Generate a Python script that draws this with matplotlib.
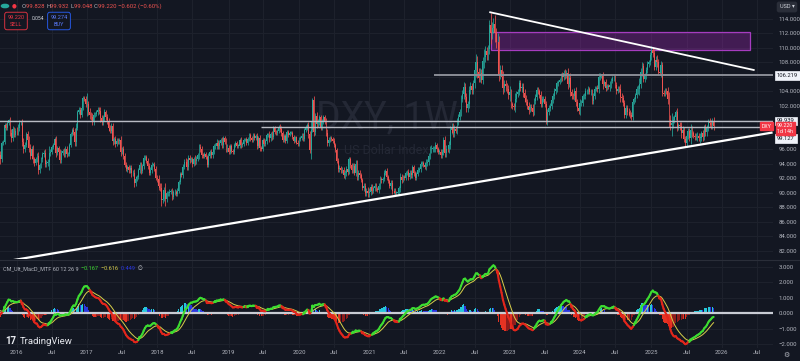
import numpy as np
import pandas as pd
import matplotlib
matplotlib.use("Agg")
import matplotlib.pyplot as plt
import matplotlib.dates as mdates
from matplotlib.collections import LineCollection
from matplotlib.patches import Rectangle

plt.rcParams['font.family'] = ['Roboto', 'DejaVu Sans']

# ------------------------------------------------------------------ data
# weekly closes of DXY (weeks starting Monday), read/estimated from the chart
warmup_closes = [91.5, 92.4, 94.7, 94.8, 94.5, 94.4, 94.1, 95.3, 97.7, 99.8,
                 98.0, 97.4, 98.0, 99.3, 97.5, 96.9, 95.0, 95.3, 94.9, 96.1,
                 96.9, 96.6, 96.4, 94.1, 94.0, 95.4, 96.0, 96.1, 97.9, 97.2,
                 97.3, 97.6, 96.6, 94.8, 95.8, 96.2, 95.2, 95.0, 96.1, 96.1]

closes_2015 = [95.2, 94.6, 96.9, 97.0, 99.3, 99.0, 99.6, 100.0, 98.3, 97.5,
               98.8, 98.0, 98.6]
closes_2016 = [98.5, 99.0, 99.6, 99.6, 97.0, 96.0, 96.6, 98.1, 97.3, 96.2,
               95.1, 96.1, 94.6, 94.1, 94.7, 95.1, 93.1, 93.8, 94.6, 95.3,
               95.5, 94.0, 94.1, 94.2, 95.5, 95.6, 96.3, 96.6, 97.4, 95.5,
               96.2, 95.7, 94.5, 95.5, 95.8, 95.3, 96.1, 95.4, 95.4, 96.6,
               98.1, 98.7, 98.4, 97.0, 99.0, 101.2, 101.5, 100.7, 101.7, 103.1,
               103.0, 102.2]
closes_2017 = [102.2, 101.2, 100.7, 100.5, 99.8, 100.8, 100.9, 101.1, 101.5, 101.3,
               100.3, 99.8, 100.4, 101.1, 100.5, 99.9, 99.0, 98.6, 99.2, 97.1,
               97.4, 96.7, 97.2, 97.1, 97.3, 95.6, 96.0, 95.1, 93.9, 93.3,
               93.5, 93.1, 93.4, 92.7, 92.8, 91.3, 91.9, 92.2, 93.1, 93.8,
               93.0, 93.7, 94.8, 94.9, 94.4, 93.7, 92.8, 93.1, 93.9, 93.9,
               93.3, 92.1]
closes_2018 = [91.9, 90.9, 90.6, 89.0, 89.2, 90.4, 89.1, 89.9, 89.9, 90.1,
               90.2, 89.4, 90.1, 90.1, 89.8, 90.3, 91.5, 92.6, 92.5, 93.6,
               94.3, 94.2, 93.6, 94.8, 94.5, 94.6, 94.0, 94.7, 94.4, 94.7,
               95.2, 96.3, 96.1, 95.2, 95.1, 95.4, 94.9, 93.9, 95.1, 95.6,
               95.2, 95.7, 96.4, 96.5, 96.9, 96.5, 96.9, 97.3, 96.6, 97.5,
               97.0, 96.2, 96.2]
closes_2019 = [95.7, 96.4, 95.8, 95.6, 96.6, 96.9, 96.5, 96.5, 97.3, 96.6,
               96.7, 97.3, 97.4, 96.9, 97.4, 98.0, 97.5, 97.3, 98.0, 97.6,
               97.8, 96.5, 97.6, 96.2, 96.1, 97.3, 96.8, 97.1, 98.0, 98.0,
               97.5, 98.1, 97.7, 98.9, 98.4, 98.3, 98.5, 99.1, 98.8, 98.3,
               97.3, 97.8, 97.2, 98.4, 98.0, 98.3, 98.3, 97.7, 97.2, 97.7,
               96.9, 96.8]
closes_2020 = [97.4, 97.6, 97.9, 97.4, 98.7, 99.1, 99.3, 98.1, 95.9, 98.7,
               102.8, 98.4, 100.6, 99.5, 99.8, 100.4, 99.1, 99.8, 100.4, 99.9,
               98.3, 96.9, 97.3, 97.6, 97.4, 97.2, 96.6, 95.9, 94.4, 93.3,
               93.4, 93.1, 93.2, 92.4, 92.7, 93.3, 92.9, 94.6, 93.8, 93.1,
               93.7, 92.8, 94.0, 92.2, 92.8, 92.4, 91.8, 90.7, 90.9, 90.0,
               90.3, 89.9]
closes_2021 = [90.1, 90.8, 90.2, 90.6, 91.0, 90.5, 90.4, 90.9, 91.9, 91.7,
               91.9, 92.8, 93.0, 92.2, 91.6, 90.9, 91.3, 90.2, 90.3, 90.0,
               90.0, 90.1, 90.6, 92.2, 91.8, 92.2, 92.1, 92.7, 92.9, 92.2,
               92.8, 92.5, 93.5, 92.7, 92.1, 92.6, 93.2, 93.3, 94.0, 94.1,
               93.9, 93.6, 94.1, 94.3, 95.1, 96.0, 96.1, 96.1, 96.1, 96.6,
               96.0, 95.7]
closes_2022 = [95.7, 95.2, 95.6, 97.3, 95.5, 96.1, 96.0, 96.6, 98.7, 99.1,
               98.2, 98.8, 98.6, 99.8, 100.5, 101.1, 103.0, 103.7, 104.6, 103.2,
               101.7, 102.2, 104.2, 104.7, 104.2, 105.1, 107.0, 108.1, 106.7, 105.9,
               106.6, 105.6, 108.2, 108.8, 109.6, 109.0, 109.8, 113.2, 112.1, 112.8,
               113.3, 112.0, 110.8, 110.8, 106.3, 107.0, 106.0, 104.5, 105.0, 104.7,
               104.3, 103.5]
closes_2023 = [103.9, 102.2, 102.0, 101.9, 103.0, 103.6, 103.9, 105.2, 104.5, 104.6,
               103.8, 103.1, 102.5, 102.0, 101.5, 101.8, 101.7, 101.2, 102.7, 103.2,
               104.2, 104.0, 103.5, 102.3, 102.9, 102.9, 102.3, 99.9, 101.1, 101.7,
               102.0, 102.8, 103.4, 104.1, 104.3, 105.1, 105.3, 105.6, 106.2, 106.0,
               106.6, 106.2, 106.6, 105.0, 105.9, 103.9, 103.4, 103.3, 104.0, 102.6,
               101.7, 101.3]
closes_2024 = [102.4, 102.4, 103.3, 103.4, 104.0, 104.1, 104.3, 103.9, 103.9, 102.7,
               103.4, 104.4, 104.5, 104.3, 106.0, 106.1, 106.1, 105.0, 105.3, 104.5,
               104.7, 104.6, 104.9, 105.5, 105.8, 105.9, 104.9, 104.1, 104.4, 104.3,
               103.2, 103.1, 102.4, 100.7, 101.7, 101.2, 101.1, 100.7, 100.4, 102.5,
               102.9, 103.5, 104.3, 104.3, 105.0, 106.7, 107.5, 105.7, 106.1, 107.0,
               107.8, 108.0, 109.0]
closes_2025 = [109.7, 109.3, 107.4, 108.4, 108.0, 106.7, 106.6, 107.6, 103.8, 103.7,
               104.1, 104.0, 102.9, 100.1, 99.3, 99.6, 100.0, 100.4, 101.1, 99.1,
               99.3, 99.2, 98.2, 98.7, 97.4, 96.9, 97.9, 98.5, 97.6, 98.7,
               98.2, 97.9, 97.7, 97.8, 97.8, 97.6, 97.6, 98.2, 97.7, 99.0,
               98.4, 98.9, 99.8, 99.6, 99.3, 99.82, 99.22]

# wick length beyond the body, in tenths of a point
wick_2015 = [4, 6, 3, 3, 3, 3, 3, 2, 5, 5, 4, 3, 3]
wick_2016 = [5, 5, 4, 3, 6, 5, 4, 3, 4, 6, 5, 4, 5, 4, 3, 4, 5, 3, 4, 3,
             4, 5, 4, 4, 10, 4, 3, 3, 3, 5, 3, 3, 4, 4, 3, 4, 3, 4, 3, 3,
             3, 3, 4, 5, 6, 3, 3, 4, 3, 2, 3, 4]
wick_2017 = [16, 5, 5, 4, 5, 4, 3, 3, 4, 4, 5, 4, 4, 5, 4, 4, 4, 3, 4, 5,
             3, 4, 3, 3, 3, 5, 3, 4, 4, 3, 4, 4, 4, 5, 4, 5, 4, 3, 3, 4,
             4, 3, 4, 3, 3, 4, 4, 4, 3, 2, 3, 4]
wick_2018 = [4, 5, 4, 8, 4, 4, 9, 4, 4, 4, 3, 4, 3, 4, 3, 3, 3, 3, 3, 4,
             3, 5, 4, 4, 4, 3, 4, 3, 5, 4, 3, 5, 5, 4, 3, 3, 3, 3, 4, 3,
             4, 4, 4, 4, 5, 4, 4, 3, 4, 4, 3, 5, 5]
wick_2019 = [4, 3, 3, 3, 3, 3, 3, 3, 3, 4, 3, 3, 2, 3, 3, 3, 3, 3, 3, 3,
             3, 4, 3, 4, 3, 3, 3, 3, 3, 3, 5, 3, 4, 3, 3, 3, 3, 3, 4, 4,
             3, 3, 3, 3, 3, 2, 2, 3, 3, 2, 2, 4]
wick_2020 = [3, 3, 3, 3, 3, 3, 4, 5, 4, 12, 3, 6, 4, 5, 4, 4, 4, 4, 3, 4,
             4, 5, 4, 3, 3, 3, 3, 3, 3, 4, 4, 3, 4, 4, 5, 4, 4, 3, 4, 3,
             4, 4, 5, 5, 4, 4, 3, 3, 4, 4, 4, 5]
wick_2021 = [5, 4, 4, 3, 4, 3, 3, 4, 4, 3, 3, 3, 3, 4, 3, 3, 4, 4, 4, 3,
             3, 3, 3, 5, 4, 3, 3, 3, 3, 4, 3, 4, 4, 4, 3, 3, 3, 3, 4, 3,
             3, 3, 5, 4, 4, 4, 5, 4, 4, 4, 3, 3]
wick_2022 = [4, 4, 4, 4, 6, 5, 4, 5, 5, 6, 5, 5, 4, 5, 4, 5, 5, 5, 7, 6,
             6, 5, 5, 6, 5, 5, 6, 10, 8, 6, 6, 5, 6, 10, 7, 6, 6, 6, 16, 8,
             8, 12, 8, 12, 8, 6, 6, 8, 6, 6, 5, 6]
wick_2023 = [8, 5, 4, 4, 8, 4, 4, 4, 4, 6, 6, 6, 4, 4, 6, 4, 4, 6, 4, 4,
             4, 4, 4, 5, 4, 4, 4, 4, 5, 4, 4, 4, 4, 4, 5, 4, 3, 3, 3, 5,
             4, 5, 4, 6, 4, 6, 4, 4, 5, 6, 4, 4]
wick_2024 = [6, 4, 4, 4, 5, 3, 4, 3, 4, 4, 4, 4, 3, 4, 5, 4, 3, 6, 3, 4,
             3, 3, 6, 4, 3, 3, 4, 4, 3, 4, 7, 6, 4, 4, 4, 4, 5, 4, 4, 3,
             3, 3, 4, 6, 8, 5, 6, 4, 4, 4, 4, 4, 4]
wick_2025 = [6, 5, 5, 5, 6, 5, 4, 6, 5, 4, 4, 4, 6, 10, 6, 14, 6, 4, 4, 6,
             4, 5, 6, 5, 4, 4, 6, 5, 4, 8, 5, 4, 4, 4, 6, 4, 7, 4, 5, 4,
             5, 5, 4, 5, 5, 5, 6]

last_bar_week = '2025-11-24'

# price-axis tick labels (those hidden behind value boxes are left out)
price_ticks = [82, 84, 86, 88, 90, 92, 94, 96, 98, 100, 102, 104, 106, 108, 110, 112, 114]
hidden_ticks = [98, 100, 106]
macd_ticks = [-2, -1, 0, 1, 2, 3]

# drawings (date, price)
support_line = (['2015-11-02', '2026-09-20'], [80.5, 98.3])
resistance_line = (['2022-09-23', '2026-06-20'], [114.93, 106.96])
supply_zone = (['2022-09-26', '2026-06-01'], [109.72, 112.16])
level_106 = ('2021-12-07', 106.219)
level_99_9 = ('2015-10-01', 99.939)
level_99_1 = ('2019-06-24', 99.127)

# ------------------------------------------------------------------ prep
closes = np.array(closes_2015 + closes_2016 + closes_2017 + closes_2018 + closes_2019 +
                  closes_2020 + closes_2021 + closes_2022 + closes_2023 + closes_2024 +
                  closes_2025)
wicks = np.array(wick_2015 + wick_2016 + wick_2017 + wick_2018 + wick_2019 +
                 wick_2020 + wick_2021 + wick_2022 + wick_2023 + wick_2024 +
                 wick_2025, dtype=float) / 10.0
n = len(closes)
wicks = wicks[:n]
opens = np.concatenate([[warmup_closes[-1]], closes[:-1]])
highs = np.maximum(opens, closes) + wicks
lows = np.minimum(opens, closes) - wicks
dates = pd.date_range(end=last_bar_week, periods=n, freq='W-MON')
xd = mdates.date2num(dates.to_pydatetime())

full = pd.Series(list(warmup_closes) + list(closes))
ema_f = full.ewm(span=12, adjust=False).mean()
ema_s = full.ewm(span=26, adjust=False).mean()
macd = (ema_f - ema_s)
sig = macd.ewm(span=9, adjust=False).mean()
macd = macd.values[-n:]
sig = sig.values[-n:]
hist = macd - sig

# ------------------------------------------------------------------ style
BG = '#131722'
GRID = '#1e222d'
TXT = '#b2b5be'
UP = '#26a69a'
DN = '#ef5350'
W, H = 800, 361

fig = plt.figure(figsize=(W / 100, H / 100), dpi=100, facecolor=BG)

def fx(x):
    return x / W

def fy(y):
    return 1 - y / H

PLOT_R = 773
ax = fig.add_axes([0, fy(259), PLOT_R / W, 259 / H])
axm = fig.add_axes([0, fy(348), PLOT_R / W, (348 - 259) / H])

px_per_day = 705.0 / 3654.0
x2016 = mdates.date2num(pd.Timestamp('2016-01-04').to_pydatetime())
xlim = (x2016 - 16.7 / px_per_day, x2016 + (PLOT_R - 16.7) / px_per_day)

# price scale: 114 -> 19px, 82 -> 250.7px
ppu = (250.7 - 19) / 32.0
ylim_main = (114 - (259 - 19) / ppu, 114 + 19 / ppu)
mppu = (344.3 - 267) / 5.0
ylim_macd = (-2 - (348 - 344.3) / mppu, 3 + (267 - 259) / mppu)

# tick positions (first Monday of Jan / Jul)
tick_x, tick_lab = [], []
for yr in range(2016, 2027):
    for m in (1, 7):
        d = pd.Timestamp(yr, m, 1)
        d = d + pd.Timedelta(days=(7 - d.weekday()) % 7)
        tick_x.append(mdates.date2num(d.to_pydatetime()))
        tick_lab.append(str(yr) if m == 1 else 'Jul')

for a in (ax, axm):
    a.set_facecolor(BG)
    a.set_xlim(*xlim)
    for s in a.spines.values():
        s.set_visible(False)
    a.set_xticks(tick_x)
    a.grid(True, color=GRID, lw=0.7, zorder=0)
    a.set_axisbelow(True)
    a.yaxis.tick_right()
    a.tick_params(axis='y', length=0, pad=4, labelsize=4.3, labelcolor=TXT)

ax.set_ylim(*ylim_main)
ax.set_yticks(price_ticks)
ax.set_yticklabels(['' if v in hidden_ticks else f'{v:.3f}' for v in price_ticks])
ax.tick_params(axis='x', length=0, labelbottom=False)

axm.set_ylim(*ylim_macd)
axm.set_yticks(macd_ticks)
axm.set_yticklabels([(f'{v:.3f}' if v >= 0 else '\u2212' + f'{-v:.3f}') for v in macd_ticks])
axm.set_xticklabels(tick_lab)
axm.tick_params(axis='x', length=0, pad=1.5, labelsize=4.3, labelcolor=TXT)

# pane separator
fig.add_artist(plt.Line2D([0, 1], [fy(259.5), fy(259.5)], color='#2a2e39', lw=0.8))

# ------------------------------------------------------------------ watermark
ax.text(0.5, 0.545, 'DXY, 1W', transform=ax.transAxes, ha='center', va='center',
        fontsize=27, color='#242835', zorder=1)
ax.text(0.5, 0.42, 'US Dollar Index', transform=ax.transAxes, ha='center', va='center',
        fontsize=9, color='#242835', zorder=1)

# ------------------------------------------------------------------ candles
ccol = np.where(closes >= opens, UP, DN)
ax.vlines(xd, lows, highs, colors=ccol, lw=0.55, zorder=3)
ax.bar(xd, np.maximum(np.abs(closes - opens), 0.05), bottom=np.minimum(opens, closes),
       width=4.6, color=ccol, lw=0, zorder=4)

# ------------------------------------------------------------------ drawings
def dn(s):
    return mdates.date2num(pd.Timestamp(s).to_pydatetime())

ax.plot([dn(d) for d in support_line[0]], support_line[1], color='white', lw=1.6, zorder=6)
ax.plot([dn(d) for d in resistance_line[0]], resistance_line[1], color='white', lw=1.3, zorder=6)
zx0, zx1 = dn(supply_zone[0][0]), dn(supply_zone[0][1])
ax.add_patch(Rectangle((zx0, supply_zone[1][0]), zx1 - zx0, supply_zone[1][1] - supply_zone[1][0],
                       facecolor='#9c27b0', alpha=0.35, edgecolor='none', zorder=2))
ax.add_patch(Rectangle((zx0, supply_zone[1][0]), zx1 - zx0, supply_zone[1][1] - supply_zone[1][0],
                       facecolor='none', edgecolor='#a63cc0', lw=0.9, zorder=2))
for (d0, lvl), col, lw in ((level_106, '#8a8d96', 1.4), (level_99_9, '#b8bbc4', 1.0),
                           (level_99_1, '#b8bbc4', 1.0)):
    ax.plot([dn(d0), xlim[1]], [lvl, lvl], color=col, lw=lw, zorder=5, solid_capstyle='butt')

# ------------------------------------------------------------------ MACD pane
up_h = hist >= 0
rising = np.concatenate([[True], hist[1:] > hist[:-1]])
hcol = np.where(up_h, np.where(rising, '#26c6da', '#2a36e0'),
                np.where(rising, '#8e1c1c', '#e53323'))
axm.bar(xd, hist, width=6.2, color=hcol, lw=0, zorder=2)
axm.axhline(0, color='#c9ccd4', lw=1.6, zorder=3)

above = macd >= sig
pts = np.column_stack([xd, macd])
segs = np.stack([pts[:-1], pts[1:]], axis=1)
lc = LineCollection(segs, colors=np.where(above[1:], '#3ddc31', '#e3261b'), lw=1.5, zorder=5,
                    capstyle='round')
axm.add_collection(lc)
axm.plot(xd, sig, color='#d8cf4a', lw=0.7, zorder=4)
cross = np.where(above[1:] != above[:-1])[0] + 1
axm.scatter(xd[cross], macd[cross], s=5, c=np.where(above[cross], '#3ddc31', '#e3261b'),
            zorder=6, lw=0)

# ------------------------------------------------------------------ axis labels (right)
ytr = ax.get_yaxis_transform()

def price_box(price, text, fc, tc, dy=0, fs=4.2):
    ax.annotate(text, xy=(1, price), xycoords=ytr, xytext=(4, -dy), textcoords='offset pixels',
                ha='left', va='center', fontsize=fs, color=tc, annotation_clip=False,
                bbox=dict(boxstyle='square,pad=0.3', fc=fc, ec=fc, lw=0.5), zorder=10)

price_box(level_106[1], '106.219', '#f0f3fa', '#131722')
price_box(level_99_9[1], '99.939', '#f0f3fa', '#131722')
price_box(level_99_1[1], '99.127', '#f0f3fa', '#131722', dy=12)
ax.annotate('99.220\n1d 14h', xy=(1, closes[-1]), xycoords=ytr, xytext=(4, -2.5),
            textcoords='offset pixels', ha='left', va='center', fontsize=3.8, color='white',
            linespacing=1.05, annotation_clip=False,
            bbox=dict(boxstyle='square,pad=0.25', fc='#f23645', ec='#f23645'), zorder=11)
ax.annotate('DXY', xy=(1, closes[-1]), xycoords=ytr, xytext=(-2, 0), textcoords='offset pixels',
            ha='right', va='center', fontsize=3.8, color='white', annotation_clip=False,
            bbox=dict(boxstyle='square,pad=0.3', fc='#f23645', ec='#f23645'), zorder=11)

# ------------------------------------------------------------------ texts / chrome
renderer = fig.canvas.get_renderer()

def runs(x, y, pieces, fs=4.3, gap=0.0):
    cx = x
    for txt, col in pieces:
        t = fig.text(fx(cx), fy(y), txt, color=col, fontsize=fs, ha='left', va='center')
        bb = t.get_window_extent(renderer=renderer)
        cx += bb.width + gap

# top legend
fig.patches.append(plt.Circle((fx(5), fy(6)), 0.0045, transform=fig.transFigure,
                              color='#26a69a', zorder=5))
fig.text(fx(14), fy(6), '\u25cf', color='#f23645', fontsize=4, ha='center', va='center')
runs(22, 6, [('O', TXT), ('99.828 ', DN), ('H', TXT), ('99.932 ', DN), ('L', TXT),
             ('99.048 ', DN), ('C', TXT), ('99.220 ', DN), ('\u22120.602 (\u22120.60%)', DN)])

fig.text(fx(16), fy(21), '99.220\nSELL', color='#f23645', fontsize=4, ha='center', va='center',
         linespacing=1.5,
         bbox=dict(boxstyle='round,pad=0.5,rounding_size=0.4', fc=BG, ec='#f23645', lw=0.6))
fig.text(fx(37.5), fy(18), '0.054', color='#d1d4dc', fontsize=3.6, ha='center', va='center')
fig.text(fx(59), fy(21), '99.274\nBUY', color='#5b7cff', fontsize=4, ha='center', va='center',
         linespacing=1.5,
         bbox=dict(boxstyle='round,pad=0.5,rounding_size=0.4', fc=BG, ec='#2962ff', lw=0.6))

fig.text(fx(787), fy(7), 'USD \u25be', color='#d1d4dc', fontsize=4, ha='center', va='center',
         bbox=dict(boxstyle='round,pad=0.4,rounding_size=0.3', fc='#2a2e39', ec='#2a2e39'))

# MACD legend
runs(3, 269, [('CM_Ult_MacD_MTF 60 12 26 9  ', TXT), ('\u22120.167  ', '#3ddc31'),
              ('\u22120.616  ', '#d8cf4a'), ('0.449  ', '#2a36e0'), ('\u2205', '#d1d4dc')],
     fs=4.0)

# TradingView logo
fig.text(fx(5), fy(341.5), '17', color='#e8eaf0', fontsize=7, fontweight='bold',
         ha='left', va='center')
fig.text(fx(20), fy(341.5), 'TradingView', color='#e8eaf0', fontsize=6.8, ha='left', va='center')

# settings icon
fig.text(fx(786), fy(354.5), '\u2699', color=TXT, fontsize=5, ha='center', va='center',
         family=['DejaVu Sans'])

fig.savefig('out.png', dpi=100, facecolor=BG)
